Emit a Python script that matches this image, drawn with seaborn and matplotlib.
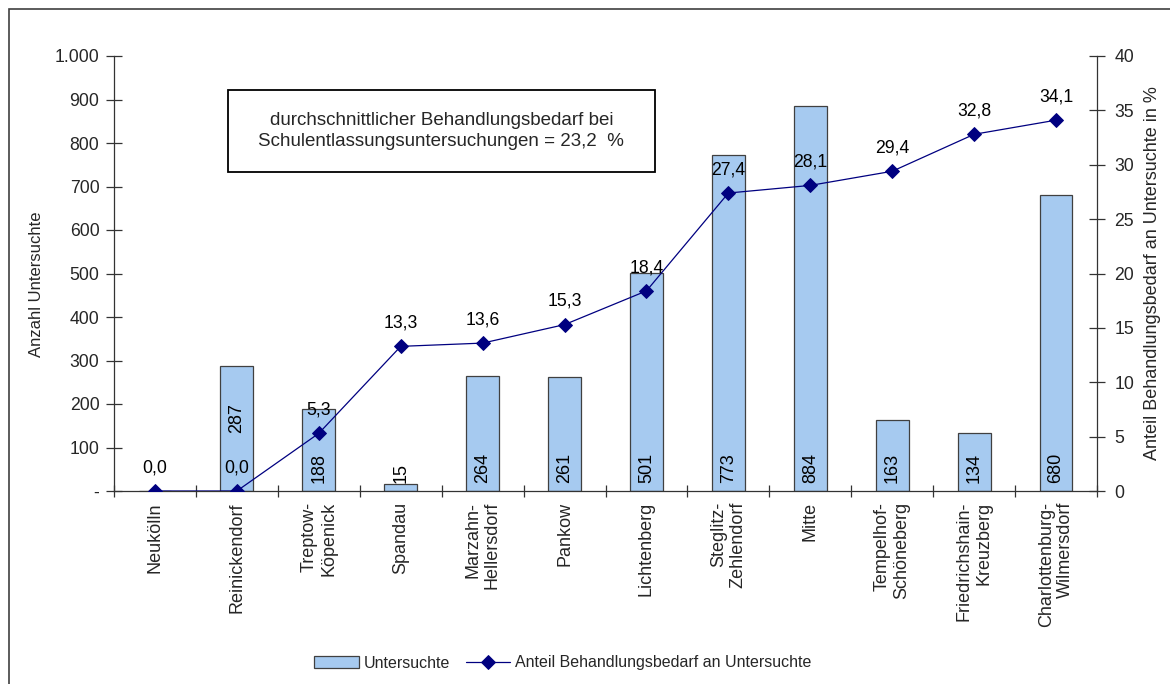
import numpy as np
import matplotlib
matplotlib.use("Agg")
import matplotlib.pyplot as plt
from matplotlib.patches import Rectangle
from matplotlib.ticker import FuncFormatter
import seaborn as sns

# ---- data ----
districts = ["Neukölln", "Reinickendorf", "Treptow-\nKöpenick", "Spandau",
             "Marzahn-\nHellersdorf", "Pankow", "Lichtenberg", "Steglitz-\nZehlendorf",
             "Mitte", "Tempelhof-\nSchöneberg", "Friedrichshain-\nKreuzberg",
             "Charlottenburg-\nWilmersdorf"]
untersuchte = [0, 287, 188, 15, 264, 261, 501, 773, 884, 163, 134, 680]
anteil = [0.0, 0.0, 5.3, 13.3, 13.6, 15.3, 18.4, 27.4, 28.1, 29.4, 32.8, 34.1]
bar_label_show = [False, True, True, True, True, True, True, True, True, True, True, True]
left_ticks = list(range(0, 1001, 100))
right_ticks = list(range(0, 41, 5))
box_text = "durchschnittlicher Behandlungsbedarf bei\nSchulentlassungsuntersuchungen = 23,2  %"

sns.set_style("ticks")
plt.rcParams["font.family"] = ["Liberation Sans", "DejaVu Sans"]
FS = 13
FS_TICK = 12.7
FS_AX = 12
FS_AX2 = 13
FS_LEG = 11.5
plt.rcParams["font.size"] = FS

BAR_COLOR = "#A6CAF0"
NAVY = "#000080"

fig = plt.figure(figsize=(11.7, 6.84), dpi=100)
W, H = 1170, 684
ax = fig.add_axes([114 / W, 1 - 491 / H, (1097 - 114) / W, (491 - 56) / H])

sns.barplot(x=list(range(len(districts))), y=untersuchte, ax=ax, color=BAR_COLOR,
            edgecolor="#404040", linewidth=0.9, width=0.4, saturation=1,
            label="Untersuchte")

ax2 = ax.twinx()
sns.pointplot(x=list(range(len(districts))), y=anteil, ax=ax2, color=NAVY,
              markers="D", markersize=7, linewidth=0.9, errorbar=None,
              label="Anteil Behandlungsbedarf an Untersuchte")

n = len(districts)
for a in (ax, ax2):
    a.set_xlim(-0.5, n - 0.5)
ax.set_ylim(0, 1000)
ax2.set_ylim(0, 40)

# x axis
ax.set_xticks(range(n))
ax.set_xticklabels(districts, rotation=90, va="top", ha="center", multialignment="right")
ax.tick_params(axis="x", which="major", length=0, pad=8, labelsize=FS)
ax.set_xticks(np.arange(-0.5, n, 1), minor=True)
ax.tick_params(axis="x", which="minor", direction="inout", length=9, width=0.9, color="#333333")
ax.set_xlabel("")

# left y
ax.set_yticks(left_ticks)
ax.yaxis.set_major_formatter(FuncFormatter(lambda v, p: "-" if v == 0 else f"{v:,.0f}".replace(",", ".")))
ax.tick_params(axis="y", direction="inout", length=11, width=0.9, color="#333333", pad=5, labelsize=FS_TICK)
ax.set_ylabel("Anzahl Untersuchte", fontsize=FS_AX)
ax.yaxis.set_label_coords(-0.0712, 0.475)

# right y
ax2.set_yticks(right_ticks)
ax2.tick_params(axis="y", direction="inout", length=11, width=0.9, color="#333333", pad=7, labelsize=FS_TICK)
ax2.set_ylabel("Anteil Behandlungsbedarf an Untersuchte in %", fontsize=FS_AX2)
ax2.yaxis.set_label_coords(1.048, 0.5)
ax2.set_xlabel("")

for a in (ax, ax2):
    a.spines["top"].set_visible(False)
    for s in ("left", "right", "bottom"):
        a.spines[s].set_color("#333333")
        a.spines[s].set_linewidth(0.9)
ax.spines["right"].set_visible(False)
ax2.spines["left"].set_visible(False)
ax2.spines["bottom"].set_visible(False)

# bar value labels (inside base)
label_offset = {1: 133}
for i, v in enumerate(untersuchte):
    if not bar_label_show[i]:
        continue
    ax.text(i, label_offset.get(i, 18), str(v), rotation=90, ha="center", va="bottom",
            fontsize=FS, color="black")

# line value labels
for i, v in enumerate(anteil):
    ax2.annotate(f"{v:.1f}".replace(".", ","), (i, v), xytext=(0, 13.5),
                 textcoords="offset points", ha="center", va="baseline",
                 fontsize=FS_TICK, color="black")

# info box
ax.add_patch(Rectangle((0.116, 0.733), 0.434, 0.189, transform=ax.transAxes,
                       facecolor="white", edgecolor="black", linewidth=1.3, zorder=5))
ax.text(0.333, 0.8276, box_text, transform=ax.transAxes, ha="center", va="center",
        fontsize=13.5, linespacing=1.25, zorder=6)

# legend
h1, l1 = ax.get_legend_handles_labels()
h2, l2 = ax2.get_legend_handles_labels()
if ax2.get_legend():
    ax2.get_legend().remove()
if ax.get_legend():
    ax.get_legend().remove()
fig.legend(h1 + h2, l1 + l2, loc="center", bbox_to_anchor=(0.481, 1 - 663 / H),
           ncol=2, frameon=False, fontsize=FS_LEG, handlelength=2.8, columnspacing=1.0,
           handletextpad=0.3)

# outer frame
fig.patches.append(Rectangle((9 / W, -0.1), 1.2, 1 - 9 / H + 0.1, transform=fig.transFigure,
                             fill=False, edgecolor="#404040", linewidth=1.2, clip_on=False))

fig.savefig("out.png", dpi=100)
